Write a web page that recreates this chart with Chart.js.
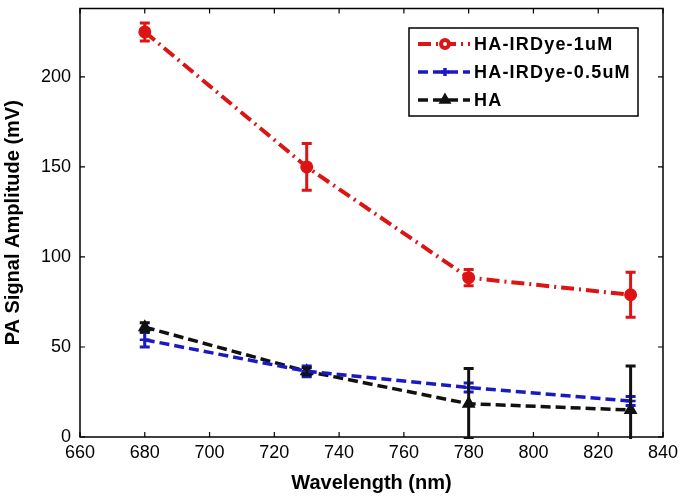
<!DOCTYPE html>
<html>
<head>
<meta charset="utf-8">
<script src="https://cdn.jsdelivr.net/npm/chart.js@4.4.1/dist/chart.umd.min.js"></script>
<style>
html,body{margin:0;padding:0;background:#fff;}
#wrap{width:680px;height:499px;position:relative;}
</style>
</head>
<body>
<div id="wrap"><canvas id="c" width="680" height="499"></canvas></div>
<script>
const wavelengths = [680, 730, 780, 830];
const dye1Values = [225, 150, 88.5, 79];
const dye1Errors = [5, 13, 4.5, 12.5];
const dye05Values = [54, 36.5, 27.5, 20];
const dye05Errors = [4, 3, 2.5, 2.5];
const haValues = [61, 36.5, 18.5, 15];
const haErrors = [2.5, 2, 19.5, 24.5];
const seriesNames = ['HA-IRDye-1uM', 'HA-IRDye-0.5uM', 'HA'];
const xTicks = [660, 680, 700, 720, 740, 760, 780, 800, 820, 840];
const yTicks = [0, 50, 100, 150, 200];

const RED = '#dc1414', BLUE = '#1a1ac4', BLACK = '#111111';
const FONT = '"Liberation Sans", Arial, sans-serif';

function pts(vals){ return wavelengths.map((x,i)=>({x:x,y:vals[i]})); }

const errorSets = [dye1Errors, dye05Errors, haErrors];

const framePlugin = {
  id:'frame',
  beforeDatasetsDraw(chart){
    const {ctx, chartArea:a, scales} = chart;
    ctx.save();
    ctx.strokeStyle = '#000';
    ctx.lineWidth = 1.5;
    ctx.strokeRect(a.left, a.top, a.right-a.left, a.bottom-a.top);
    ctx.lineWidth = 1.2;
    const L = 5;
    xTicks.forEach(v=>{
      const px = scales.x.getPixelForValue(v);
      ctx.beginPath();
      ctx.moveTo(px, a.bottom); ctx.lineTo(px, a.bottom-L);
      ctx.moveTo(px, a.top); ctx.lineTo(px, a.top+L);
      ctx.stroke();
    });
    yTicks.forEach(v=>{
      const py = scales.y.getPixelForValue(v);
      ctx.beginPath();
      ctx.moveTo(a.left, py); ctx.lineTo(a.left+L, py);
      ctx.moveTo(a.right, py); ctx.lineTo(a.right-L, py);
      ctx.stroke();
    });
    ctx.restore();
  },
  afterDatasetsDraw(chart){
    const {ctx, chartArea:a, scales} = chart;
    ctx.save();
    ctx.beginPath();
    ctx.rect(a.left, a.top, a.right-a.left, a.bottom-a.top+2);
    ctx.clip();
    chart.data.datasets.forEach((ds, di)=>{
      const errs = errorSets[di];
      ctx.strokeStyle = ds.borderColor;
      ctx.lineWidth = 3;
      ctx.setLineDash([]);
      ds.data.forEach((p, i)=>{
        const px = scales.x.getPixelForValue(p.x);
        const yt = scales.y.getPixelForValue(p.y + errs[i]);
        const yb = scales.y.getPixelForValue(p.y - errs[i]);
        const cw = 5;
        ctx.beginPath();
        ctx.moveTo(px, yt); ctx.lineTo(px, yb);
        ctx.moveTo(px-cw, yt); ctx.lineTo(px+cw, yt);
        ctx.moveTo(px-cw, yb); ctx.lineTo(px+cw, yb);
        ctx.stroke();
      });
    });
    ctx.restore();

    // legend
    const bx = 409, by = 28, bw = 229, bh = 88;
    ctx.save();
    ctx.fillStyle = '#fff';
    ctx.fillRect(bx, by, bw, bh);
    ctx.strokeStyle = '#000';
    ctx.lineWidth = 1.5;
    ctx.strokeRect(bx, by, bw, bh);
    const rows = [44, 72, 100];
    chart.data.datasets.forEach((ds, di)=>{
      const y = rows[di];
      ctx.strokeStyle = ds.borderColor;
      ctx.lineWidth = ds.borderWidth;
      ctx.setLineDash(ds.borderDash);
      ctx.beginPath();
      ctx.moveTo(418, y); ctx.lineTo(470, y);
      ctx.stroke();
      ctx.setLineDash([]);
      Chart.helpers.drawPoint(ctx, {pointStyle: ds.pointStyle, radius: 4, borderWidth: 2, rotation:0}, 445, y);
      ctx.fillStyle = '#000';
      ctx.font = 'bold 18px ' + FONT;
      ctx.textBaseline = 'middle';
      ctx.textAlign = 'left';
      try { ctx.letterSpacing = '1.2px'; } catch(e){}
      ctx.fillText(seriesNames[di], 474, y+1);
      try { ctx.letterSpacing = '0px'; } catch(e){}
    });
    ctx.restore();
  }
};

new Chart(document.getElementById('c'), {
  type: 'line',
  data: {
    datasets: [
      { label: seriesNames[0], data: pts(dye1Values), borderColor: RED, backgroundColor: RED,
        borderWidth: 4, borderDash: [13,5,2,5], pointStyle: 'circle', pointRadius: 4.5,
        pointBackgroundColor: RED, pointBorderColor: RED },
      { label: seriesNames[1], data: pts(dye05Values), borderColor: BLUE, backgroundColor: BLUE,
        borderWidth: 3.5, borderDash: [10,5], pointStyle: 'cross', pointRadius: 5, pointBorderWidth: 2.5,
        pointBorderColor: BLUE },
      { label: seriesNames[2], data: pts(haValues), borderColor: BLACK, backgroundColor: BLACK,
        borderWidth: 3.5, borderDash: [10,5], pointStyle: 'triangle', pointRadius: 4.5,
        pointBackgroundColor: BLACK, pointBorderColor: BLACK }
    ]
  },
  options: {
    responsive: false,
    animation: false,
    layout: { padding: { top: 7, right: 17, left: 0, bottom: 0 } },
    plugins: { legend: { display: false }, tooltip: { enabled: false } },
    scales: {
      x: {
        type: 'linear', min: 660, max: 840,
        afterBuildTicks: s => { s.ticks = xTicks.map(v=>({value:v})); },
        afterFit: s => { s.height = 62; s.paddingLeft = 0; s.paddingRight = 0; },
        ticks: { color: '#000', font: { family: FONT, size: 18 }, padding: 5, maxRotation: 0 },
        grid: { drawOnChartArea: false, drawTicks: false },
        border: { display: false },
        title: { display: true, text: 'Wavelength (nm)', color: '#000',
                 font: { family: FONT, size: 20, weight: 'bold' }, padding: { top: 0, bottom: 4 } }
      },
      y: {
        type: 'linear', min: 0, max: 238,
        afterBuildTicks: s => { s.ticks = yTicks.map(v=>({value:v})); },
        afterFit: s => { s.width = 80; s.paddingTop = 0; s.paddingBottom = 0; },
        ticks: { color: '#000', font: { family: FONT, size: 18 }, padding: 9 },
        grid: { drawOnChartArea: false, drawTicks: false },
        border: { display: false },
        title: { display: true, text: 'PA Signal Amplitude (mV)', color: '#000',
                 font: { family: FONT, size: 20, weight: 'bold' }, padding: { top: 1, bottom: 0 } }
      }
    }
  },
  plugins: [framePlugin]
});
</script>
</body>
</html>
